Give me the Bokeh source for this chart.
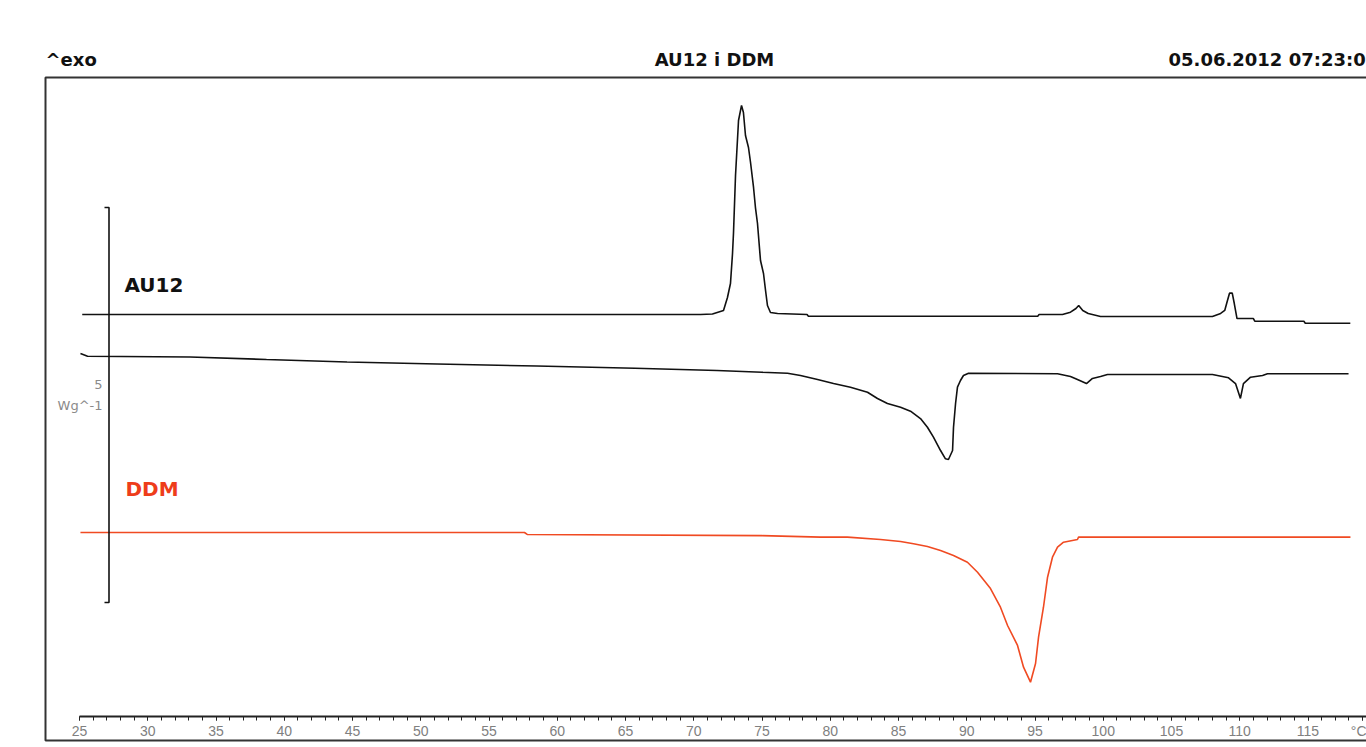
from bokeh.plotting import figure
from bokeh.models import LinearAxis, FixedTicker, Range1d
from bokeh.core.properties import value
from bokeh.embed import file_html
from bokeh.resources import INLINE

# ---------------- data (temperature in degC, heat flow in W/g) ----------------
au12_run1_T = [25.2, 70.5, 71.37, 72.18, 72.47, 72.69, 72.84, 72.91, 73.06, 73.28, 73.50,
               73.64, 73.79, 74.01, 74.16, 74.38, 74.52, 74.67, 74.89, 75.11, 75.26, 75.40,
               75.62, 76.14, 78.3, 78.4, 95.2, 95.3, 97.01, 97.6, 98.0, 98.2, 98.5, 98.9,
               99.8, 108.0, 108.6, 108.9, 109.1, 109.25, 109.45, 109.6, 109.8, 111.0, 111.1,
               114.7, 114.8, 118.1]
au12_run1_hf = [0.0, 0.0, 0.006, 0.051, 0.215, 0.392, 0.772, 1.025, 1.759, 2.456, 2.646,
                2.557, 2.266, 2.114, 1.924, 1.608, 1.354, 1.152, 0.684, 0.519, 0.304, 0.114,
                0.025, 0.013, 0.0, -0.022, -0.022, 0.0, 0.0, 0.029, 0.076, 0.114, 0.051, 0.013,
                -0.025, -0.025, 0.013, 0.051, 0.177, 0.270, 0.270, 0.139, -0.051, -0.051, -0.085,
                -0.085, -0.110, -0.110]

au12_run2_T = [25.07, 25.59, 33.1, 38.7, 44.6, 51.2, 58.5, 65.7, 71.7, 75.0, 76.87, 77.82,
               79.07, 80.24, 81.48, 82.73, 83.46, 84.19, 85.15, 85.88, 86.61, 87.12, 87.56,
               88.08, 88.44, 88.66, 88.96, 89.03, 89.18, 89.32, 89.54, 89.76, 90.13, 96.65,
               97.60, 98.11, 98.77, 99.21, 99.80, 100.31, 108.0, 109.18, 109.69, 110.05,
               110.27, 110.79, 111.67, 112.03, 117.97]
au12_run2_hf = [0.034, 0.0, -0.010, -0.042, -0.073, -0.099, -0.124, -0.153, -0.181, -0.204,
                -0.215, -0.244, -0.295, -0.346, -0.392, -0.456, -0.535, -0.599, -0.646, -0.696,
                -0.789, -0.899, -1.025, -1.194, -1.299, -1.308, -1.194, -0.899, -0.599, -0.392,
                -0.308, -0.244, -0.215, -0.223, -0.257, -0.295, -0.346, -0.282, -0.257, -0.232,
                -0.232, -0.273, -0.346, -0.535, -0.346, -0.266, -0.244, -0.223, -0.223]

ddm_T = [25.07, 57.6, 57.8, 75.0, 79.29, 81.26, 83.68, 85.15, 86.10, 87.12, 88.08, 89.03,
         90.05, 90.79, 91.74, 92.47, 92.99, 93.72, 94.16, 94.67, 95.04, 95.26, 95.62, 95.92,
         96.28, 96.65, 97.09, 98.11, 98.19, 118.11]
ddm_hf = [0.0, 0.0, -0.025, -0.040, -0.059, -0.059, -0.089, -0.114, -0.143, -0.177, -0.228,
          -0.291, -0.376, -0.503, -0.709, -0.946, -1.177, -1.430, -1.705, -1.895, -1.658,
          -1.325, -0.946, -0.566, -0.313, -0.186, -0.123, -0.089, -0.059, -0.059]

major_ticks = [25, 30, 35, 40, 45, 50, 55, 60, 65, 70, 75, 80, 85, 90, 95, 100, 105, 110, 115, 119]
minor_ticks = list(range(25, 121))
unit_label = {119: "°C"}

title_left = "^exo"
title_center = "AU12 i DDM"
title_right = "05.06.2012 07:23:0"
label_au12 = "AU12"
label_ddm = "DDM"
scale_value = 5
scale_text = "5"
scale_unit = "Wg^-1"

# ---------------- layout constants ----------------
W, H = 1366, 747
PX_PER_DEG = 13.65
PX_PER_WG = 79.0
X_START = 25 - 79 / PX_PER_DEG

x_range = Range1d(X_START, X_START + W / PX_PER_DEG)
y_range = Range1d(0, H / PX_PER_WG)


def px_x(page_x):
    return X_START + page_x / PX_PER_DEG


def px_y(page_y):
    return (H - page_y) / PX_PER_WG


off_run1 = px_y(314)
off_run2 = px_y(355.7)
off_ddm = px_y(532)

p = figure(width=W, height=H, x_range=x_range, y_range=y_range,
           x_axis_location=None, y_axis_location=None,
           output_backend="svg", toolbar_location=None, min_border=0)
p.outline_line_color = None
p.grid.visible = False
p.background_fill_color = "white"
p.border_fill_color = "white"

# frame (left, top, bottom edges; right edge lies beyond the page)
p.line([px_x(1500), px_x(45), px_x(45), px_x(1500)],
       [px_y(77), px_y(77), px_y(740), px_y(740)], line_color="#333333", line_width=2)

# curves
p.line(au12_run1_T, [v + off_run1 for v in au12_run1_hf], line_color="#111111", line_width=1.6)
p.line(au12_run2_T, [v + off_run2 for v in au12_run2_hf], line_color="#111111", line_width=1.6)
p.line(ddm_T, [v + off_ddm for v in ddm_hf], line_color="#f04a22", line_width=1.6)

# scale bar (5 W/g)
sb_bottom = px_y(602)
sb_top = sb_bottom + scale_value
p.line([px_x(104), px_x(108.5), px_x(108.5), px_x(104)],
       [sb_top, sb_top, sb_bottom, sb_bottom], line_color="#111111", line_width=1.6)

# x axis inside the frame
ax = LinearAxis(fixed_location=px_y(715.5), bounds=(25, 125),
                ticker=FixedTicker(ticks=major_ticks, minor_ticks=minor_ticks),
                major_label_overrides=unit_label)
ax.axis_line_width = 2
ax.axis_line_color = "#222222"
ax.major_tick_in = 0
ax.major_tick_out = 4
ax.minor_tick_in = 0
ax.minor_tick_out = 4
ax.major_tick_line_color = "#222222"
ax.minor_tick_line_color = "#222222"
ax.major_label_text_font = "Liberation Sans"
ax.major_label_text_font_size = "14px"
ax.major_label_text_color = "#808080"
ax.major_label_standoff = 3
p.add_layout(ax, "below")

# texts
bold = dict(text_font=value("DejaVu Sans"), text_font_style="bold", text_baseline="alphabetic")
p.text(x=[px_x(45)], y=[px_y(59)], text=[title_left], text_align="left",
       text_font_size="18px", text_color="#111111", **bold)
p.text(x=[px_x(714)], y=[px_y(59)], text=[title_center], text_align="center",
       text_font_size="18px", text_color="#111111", **bold)
p.text(x=[px_x(1168)], y=[px_y(59)], text=[title_right], text_align="left",
       text_font_size="18px", text_color="#111111", **bold)
p.text(x=[px_x(124)], y=[px_y(284)], text=[label_au12], text_align="left",
       text_font_size="20px", text_color="#111111", **bold)
p.text(x=[px_x(125)], y=[px_y(488)], text=[label_ddm], text_align="left",
       text_font_size="20px", text_color="#ee3d1a", **bold)

thin = dict(text_font=value("DejaVu Sans"), text_baseline="alphabetic", text_align="right",
            text_color="#8a8a8a", text_font_size="13px")
p.text(x=[px_x(102)], y=[px_y(384)], text=[scale_text], **thin)
p.text(x=[px_x(102)], y=[px_y(405)], text=[scale_unit], **thin)

open("out.html", "w").write(file_html(p, INLINE))
